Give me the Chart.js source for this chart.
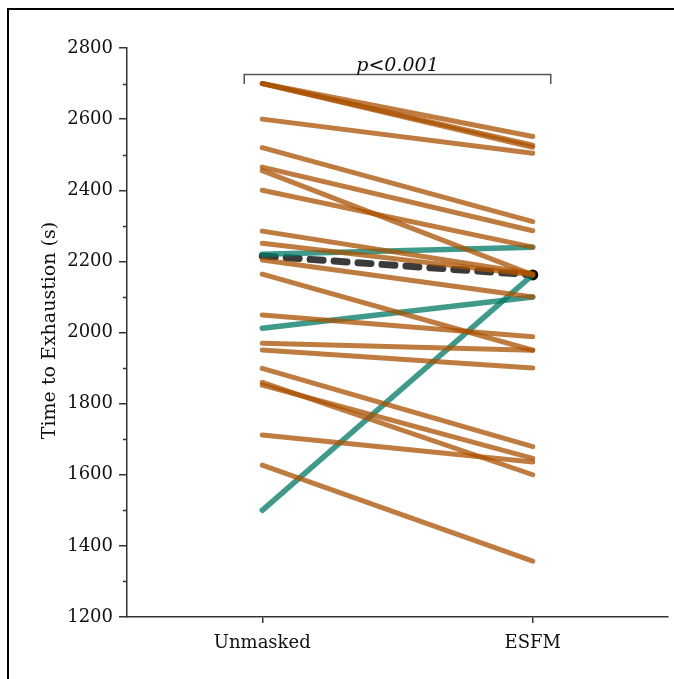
<!DOCTYPE html>
<html>
<head>
<meta charset="utf-8">
<script src="https://cdn.jsdelivr.net/npm/chart.js@4"></script>
<style>
  html, body { margin: 0; padding: 0; background: #fff; overflow: hidden; }
  #wrap { width: 674px; height: 679px; position: relative; }
</style>
</head>
<body>
<div id="wrap"><canvas id="c" width="674" height="679"></canvas></div>
<script>
// ---- data ----
const categories = ['Unmasked', 'ESFM'];
const orangeUnmasked = [2700, 2700, 2700, 2600, 2520, 2465, 2455, 2400, 2285, 2251, 2204, 2164, 2049, 1970, 1951, 1899, 1860, 1852, 1712, 1627];
const orangeESFM     = [2551, 2527, 2521, 2504, 2312, 2286, 2162, 2240, 2165, 2162, 2100, 1950, 1988, 1950, 1900, 1679, 1600, 1646, 1636, 1357];
const tealUnmasked   = [2220, 2012, 1500];
const tealESFM       = [2240, 2100, 2162];
const meanValues     = [2215, 2162];
const yTicks         = [1200, 1400, 1600, 1800, 2000, 2200, 2400, 2600, 2800];
const minorTicks     = [1300, 1500, 1700, 1900, 2100, 2300, 2500, 2700];
const yTitle = 'Time to Exhaustion (s)';
const pText = 'p<0.001';
const bracketValues = [2727, 2699];

const FONT = "'DejaVu Serif', serif";
const ORANGE = 'rgba(170, 80, 0, 0.75)';
const TEAL = 'rgba(0, 120, 100, 0.75)';

const datasets = [];
orangeUnmasked.forEach((v, i) => {
  datasets.push({ data: [v, orangeESFM[i]], borderColor: ORANGE, borderWidth: 5,
    borderCapStyle: 'round', pointRadius: 0, clip: false });
});
tealUnmasked.forEach((v, i) => {
  datasets.push({ data: [v, tealESFM[i]], borderColor: TEAL, borderWidth: 5.5,
    borderCapStyle: 'round', pointRadius: 0, clip: false });
});
datasets.push({ data: meanValues, borderColor: 'rgba(15,15,15,0.82)', borderWidth: 7,
  borderDash: [13, 11], borderCapStyle: 'round', pointRadius: [0, 5.5],
  pointBackgroundColor: '#000', pointBorderWidth: 0, clip: false });

const decor = {
  id: 'decor',
  beforeDraw(chart) {
    const ctx = chart.ctx;
    ctx.save();
    ctx.fillStyle = '#fff';
    ctx.fillRect(0, 0, chart.width, chart.height);
    ctx.strokeStyle = '#000';
    ctx.lineWidth = 2;
    ctx.beginPath();
    ctx.moveTo(8, chart.height + 5);
    ctx.lineTo(8, 9);
    ctx.lineTo(chart.width + 5, 9);
    ctx.stroke();
    ctx.restore();
  },
  afterDraw(chart) {
    const ctx = chart.ctx;
    const xs = chart.scales.x, ys = chart.scales.y;
    ctx.save();
    // minor ticks
    ctx.strokeStyle = '#333';
    ctx.lineWidth = 1.5;
    minorTicks.forEach(v => {
      const y = Math.round(ys.getPixelForValue(v)) + 0.5;
      ctx.beginPath();
      ctx.moveTo(xs.left - 4, y);
      ctx.lineTo(xs.left, y);
      ctx.stroke();
    });
    // bracket
    const x0 = xs.getPixelForValue(0) - 18, x1 = xs.getPixelForValue(1) + 18;
    const yTop = Math.round(ys.getPixelForValue(bracketValues[0])) + 0.5;
    const yBot = ys.getPixelForValue(bracketValues[1]);
    ctx.strokeStyle = '#555';
    ctx.lineWidth = 1.5;
    ctx.beginPath();
    ctx.moveTo(x0, yBot); ctx.lineTo(x0, yTop); ctx.lineTo(x1, yTop); ctx.lineTo(x1, yBot);
    ctx.stroke();
    ctx.fillStyle = '#111';
    ctx.font = "italic 19px " + FONT;
    ctx.textAlign = 'center';
    ctx.textBaseline = 'alphabetic';
    ctx.fillText(pText, (x0 + x1) / 2, yTop - 4);
    // y title
    ctx.translate(50, (ys.top + ys.bottom) / 2 - 2);
    ctx.rotate(-Math.PI / 2);
    ctx.font = "19px " + FONT;
    ctx.textBaseline = 'middle';
    ctx.fillText(yTitle, 0, 0);
    ctx.restore();
  }
};

new Chart(document.getElementById('c'), {
  type: 'line',
  data: { labels: categories, datasets },
  options: {
    responsive: false,
    animation: false,
    layout: { padding: { left: 0, right: 6, top: 48, bottom: 0 } },
    plugins: { legend: { display: false }, tooltip: { enabled: false }, title: { display: false } },
    scales: {
      x: {
        type: 'category',
        offset: true,
        grid: { drawOnChartArea: false, drawTicks: true, tickLength: 6, color: '#333', lineWidth: 1.5, offset: false },
        border: { display: true, color: '#333', width: 1.5 },
        ticks: { color: '#111', font: { family: FONT, size: 18 }, padding: 10 },
        afterFit(s) { s.height = 62; }
      },
      y: {
        min: 1200, max: 2800,
        afterBuildTicks(s) { s.ticks = yTicks.map(v => ({ value: v })); },
        grid: { drawOnChartArea: false, drawTicks: true, tickLength: 8, color: '#333', lineWidth: 1.5 },
        border: { display: true, color: '#333', width: 1.5 },
        ticks: { color: '#111', font: { family: FONT, size: 18 }, padding: 6,
                 callback: (v) => String(v) },
        afterFit(s) { s.width = 127; }
      }
    }
  },
  plugins: [decor]
});
</script>
</body>
</html>
